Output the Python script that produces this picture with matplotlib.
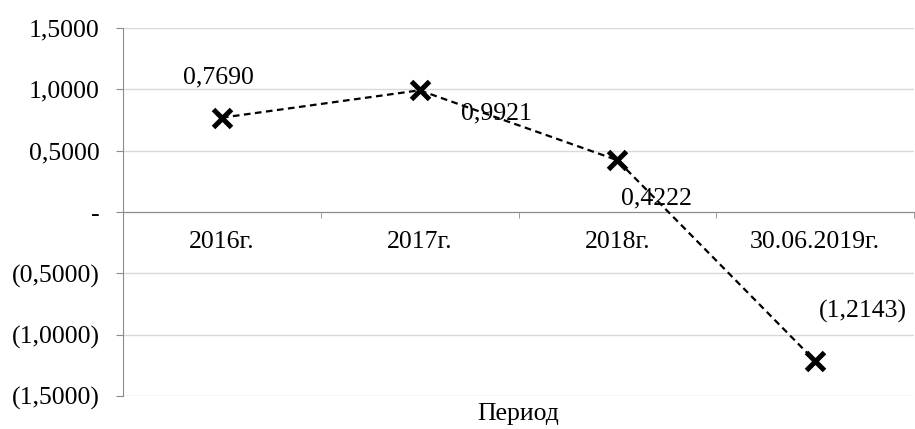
import matplotlib.pyplot as plt
from matplotlib.ticker import FuncFormatter, FixedLocator

plt.rcParams['font.family'] = ['Liberation Serif', 'DejaVu Serif']

periods = ['2016г.', '2017г.', '2018г.', '30.06.2019г.']
values = [0.7690, 0.9921, 0.4222, -1.2143]
# label offsets in pixels, relative to each marker
label_offsets = [(-3, 40), (77, -23), (39, -38), (48, 50)]

FS = 18.5
GRID = '#d9d9d9'
AXIS = '#8c8c8c'


def fmt_num(v, pos=None):
    if abs(v) < 1e-9:
        return '-'
    s = f'{abs(v):.4f}'.replace('.', ',')
    return f'({s})' if v < 0 else s


fig = plt.figure(figsize=(9.15, 4.29), dpi=100)
ax = fig.add_axes([123 / 915, 33 / 429, 791 / 915, 368 / 429])

x = list(range(len(periods)))
ax.plot(x, values, color='black', linestyle=(0, (3, 2)), linewidth=1.6,
        marker='x', markersize=13, markeredgewidth=3.6, zorder=3)

for xi, v, (dx, dy) in zip(x, values, label_offsets):
    ax.annotate(fmt_num(v), (xi, v), xytext=(dx, dy), textcoords='offset pixels',
                ha='center', va='center', fontsize=FS, zorder=4)

ax.set_xlim(-0.5, len(periods) - 0.5)
ax.set_ylim(-1.5, 1.5)
ax.set_yticks([-1.5, -1.0, -0.5, 0.0, 0.5, 1.0, 1.5])
ax.yaxis.set_major_formatter(FuncFormatter(fmt_num))
ax.grid(axis='y', color=GRID, linewidth=1)
ax.set_axisbelow(True)

for side in ['top', 'right']:
    ax.spines[side].set_visible(False)
ax.spines['left'].set_color(AXIS)
ax.spines['bottom'].set_position(('data', 0))
ax.spines['bottom'].set_color(AXIS)
ax.spines['bottom'].set_zorder(2)

ax.set_xticks(x)
ax.set_xticklabels(periods)
ax.xaxis.set_minor_locator(FixedLocator([0.5, 1.5, 2.5, 3.5]))
ax.tick_params(axis='x', which='major', length=0, pad=14, labelsize=FS)
ax.tick_params(axis='x', which='minor', length=4, color=AXIS, direction='out')
ax.tick_params(axis='y', length=5, color=AXIS, labelsize=FS, pad=12)

fig.text((123 + 914) / 2 / 915, 1 - 414 / 429, 'Период', ha='center', va='center',
         fontsize=FS)

fig.savefig('out.png', dpi=100)
